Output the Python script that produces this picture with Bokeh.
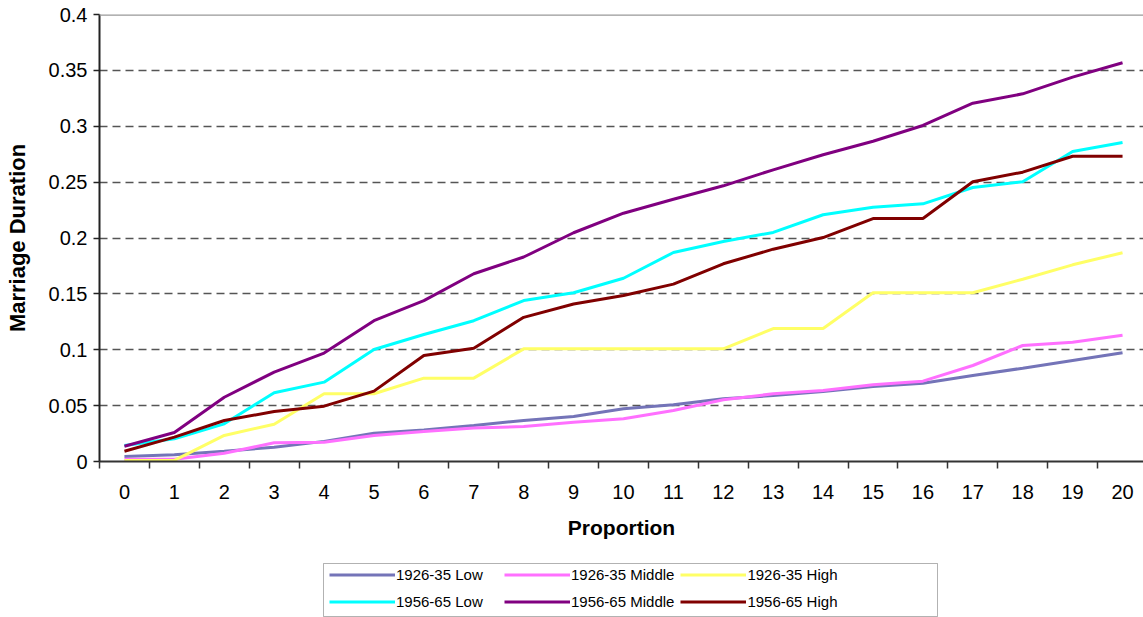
from bokeh.plotting import figure
from bokeh.models import (Range1d, FixedTicker, CustomJSTickFormatter, Span,
                          Legend, LegendItem, BoxAnnotation)
from bokeh.layouts import column
from bokeh.embed import file_html
from bokeh.resources import INLINE

proportion = list(range(21))
tick_labels = [str(i) for i in proportion]

low_1926 = [0.0045, 0.006, 0.0092, 0.0128, 0.018, 0.0253, 0.0283, 0.0322, 0.0367, 0.0403, 0.0472,
            0.0507, 0.0561, 0.059, 0.0626, 0.0671, 0.070, 0.077, 0.0835, 0.0904, 0.0973]
middle_1926 = [0.002, 0.002, 0.0074, 0.0167, 0.0173, 0.0233, 0.0268, 0.030, 0.0313, 0.0352, 0.0382,
               0.0456, 0.0552, 0.0606, 0.0635, 0.0686, 0.0719, 0.0859, 0.1038, 0.1068, 0.113]
high_1926 = [0.001, 0.001, 0.0233, 0.0334, 0.0606, 0.0606, 0.0746, 0.0746, 0.1008, 0.1008, 0.1008,
             0.1008, 0.1008, 0.119, 0.119, 0.151, 0.151, 0.151, 0.1631, 0.176, 0.1868]
low_1956 = [0.0143, 0.0203, 0.0337, 0.0615, 0.071, 0.1002, 0.1137, 0.126, 0.144, 0.151, 0.164,
            0.187, 0.1969, 0.205, 0.2208, 0.2276, 0.2306, 0.2452, 0.2503, 0.2774, 0.2855]
middle_1956 = [0.0137, 0.026, 0.0575, 0.080, 0.097, 0.126, 0.144, 0.168, 0.183, 0.2047, 0.2222,
               0.2347, 0.2467, 0.261, 0.2745, 0.2866, 0.3007, 0.3206, 0.329, 0.344, 0.3568]
high_1956 = [0.0092, 0.0218, 0.0367, 0.0447, 0.0495, 0.063, 0.0949, 0.1014, 0.129, 0.141, 0.1485,
             0.1587, 0.1769, 0.19, 0.2004, 0.2174, 0.2174, 0.2503, 0.2589, 0.2732, 0.2732]

series_names = ["1926-35 Low", "1926-35 Middle", "1926-35 High",
                "1956-65 Low", "1956-65 Middle", "1956-65 High"]
series_values = [low_1926, middle_1926, high_1926, low_1956, middle_1956, high_1956]
series_colors = ["#7474B8", "#FF70FF", "#FFFF66", "#00FFFF", "#800080", "#800000"]

FONT = "Liberation Sans"

p = figure(width=1143, height=556, output_backend="svg", toolbar_location=None,
           x_range=Range1d(-0.5, 20.42), y_range=Range1d(0, 0.4),
           min_border_left=99, min_border_right=0, min_border_top=14, min_border_bottom=95)
p.frame_height = 447
p.frame_width = 1044
p.outline_line_color = None
p.background_fill_color = "white"
p.border_fill_color = "white"

# x axis: labels at categories, tick marks between categories
p.xaxis.ticker = FixedTicker(ticks=proportion, minor_ticks=[i - 0.5 for i in range(22)])
p.xaxis.major_label_overrides = {i: lbl for i, lbl in zip(proportion, tick_labels)}
p.xaxis.major_tick_out = 0
p.xaxis.major_tick_in = 0
p.xaxis.minor_tick_out = 7
p.xaxis.minor_tick_in = 0
p.xaxis.minor_tick_line_color = "#333333"
p.xaxis.minor_tick_line_width = 1.5
p.xaxis.axis_line_color = "#333333"
p.xaxis.axis_line_width = 2
p.xaxis.major_label_standoff = 16
p.xaxis.major_label_text_font = FONT
p.xaxis.major_label_text_font_size = "20px"
p.xaxis.major_label_text_color = "black"
p.xaxis.axis_label = "Proportion"
p.xaxis.axis_label_text_font = FONT
p.xaxis.axis_label_text_font_style = "bold"
p.xaxis.axis_label_text_font_size = "21px"
p.xaxis.axis_label_text_color = "black"
p.xaxis.axis_label_standoff = 14

# y axis
p.yaxis.ticker = FixedTicker(ticks=[i * 0.05 for i in range(9)])
p.yaxis.formatter = CustomJSTickFormatter(code="return String(Math.round(tick*100)/100);")
p.yaxis.minor_tick_line_color = None
p.yaxis.major_tick_out = 6
p.yaxis.major_tick_in = 0
p.yaxis.major_tick_line_color = "#222222"
p.yaxis.major_tick_line_width = 1.5
p.yaxis.axis_line_color = "#222222"
p.yaxis.axis_line_width = 2
p.yaxis.major_label_standoff = 6
p.yaxis.major_label_text_font = FONT
p.yaxis.major_label_text_font_size = "20px"
p.yaxis.major_label_text_color = "black"
p.yaxis.axis_label = "Marriage Duration"
p.yaxis.axis_label_text_font = FONT
p.yaxis.axis_label_text_font_style = "bold"
p.yaxis.axis_label_text_font_size = "22px"
p.yaxis.axis_label_text_color = "black"
p.yaxis.axis_label_standoff = 16

p.xgrid.grid_line_color = None
p.ygrid.ticker = FixedTicker(ticks=[i * 0.05 for i in range(1, 8)])
p.ygrid.grid_line_color = "#555555"
p.ygrid.grid_line_dash = "8 5"
p.ygrid.grid_line_width = 1.3

p.add_layout(Span(location=0.4, dimension="width", line_color="#999999", line_width=2.5))

for name, vals, col in zip(series_names, series_values, series_colors):
    p.line(proportion, vals, line_color=col, line_width=3)

# legend strip below the chart (frame aligned with the chart's frame)
lg = figure(width=1143, height=61, output_backend="svg", toolbar_location=None,
            x_axis_location=None, y_axis_location=None,
            x_range=Range1d(100, 101), y_range=Range1d(100, 101),
            min_border_left=99, min_border_right=0, min_border_top=6, min_border_bottom=0)
lg.frame_width = 1044
lg.frame_height = 55
lg.grid.visible = False
lg.outline_line_color = None
lg.border_fill_color = "white"
lg.add_layout(BoxAnnotation(left=224, right=838, top=54, bottom=1,
                            left_units="screen", right_units="screen",
                            top_units="screen", bottom_units="screen",
                            fill_alpha=0, line_color="black", line_width=1))
items = []
for name, vals, col in zip(series_names, series_values, series_colors):
    r = lg.line(x=proportion[:1], y=vals[:1], line_color=col, line_width=3)
    items.append(LegendItem(label=name, renderers=[r]))

legend = Legend(items=items, location=(230, 5), orientation="horizontal", ncols=3)
legend.label_text_font = FONT
legend.label_text_font_size = "15px"
legend.label_text_color = "black"
legend.glyph_width = 66
legend.glyph_height = 21
legend.label_height = 21
legend.label_width = 102
legend.label_standoff = 1
legend.spacing = 6
legend.padding = 1
legend.margin = 0
legend.border_line_color = None
legend.background_fill_alpha = 0.0
lg.add_layout(legend, "center")

open("out.html", "w").write(file_html(column(p, lg, spacing=0), INLINE))
